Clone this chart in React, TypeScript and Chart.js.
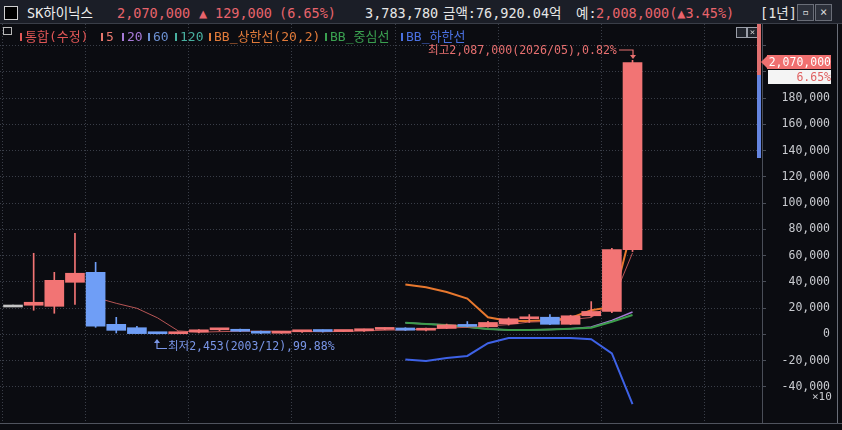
import React, { useEffect, useRef } from 'react';
import { Chart, registerables } from 'chart.js';

Chart.register(...registerables);

// 연봉 (수정주가) - 축 단위는 원/10 (축 아래 "×10")
const years = [
    1996, 1997, 1998, 1999, 2000, 2001, 2002, 2003, 2004, 2005, 2006,
    2007, 2008, 2009, 2010, 2011, 2012, 2013, 2014, 2015, 2016, 2017,
    2018, 2019, 2020, 2021, 2022, 2023, 2024, 2025, 2026,
];
const opens = [
    22300, 22100, 21300, 39600, 47200, 7600, 5000, 650, 420, 1700, 3400,
    3700, 2300, 800, 1900, 2400, 2100, 2700, 3700, 4800, 3100, 4500,
    7200, 5700, 8000, 11800, 13000, 7600, 14100, 17400, 64500,
];
const highs = [
    22300, 61700, 47200, 76900, 54800, 12900, 6000, 900, 1800, 3600, 4400,
    4000, 2500, 2200, 2900, 3300, 3000, 3900, 5000, 5000, 4700, 7800,
    9700, 9800, 12600, 15000, 15000, 14500, 24900, 65500, 208700,
];
const lows = [
    22300, 18300, 16000, 22800, 5300, 1000, 400, 245, 400, 1000, 2500,
    2000, 500, 700, 1500, 1700, 2000, 2200, 3400, 2900, 2600, 4300,
    5700, 5500, 7000, 9000, 7300, 7400, 13500, 16400, 63000,
];
const closes = [
    22300, 24400, 41100, 46500, 6100, 3000, 500, 420, 1700, 3400, 3700,
    2300, 800, 1900, 2400, 2100, 2700, 3700, 4800, 3100, 4500, 7200,
    6000, 9000, 11800, 13000, 7600, 14100, 17400, 64500, 207000,
];

// 이동평균 / 볼린저밴드
const ma5 = [
    null, null, null, null, 28000, 23600, 19800, 12500, 2600, 1600, 2000,
    2300, 2400, 2400, 2200, 1900, 2200, 2500, 3100, 3400, 3900, 4700,
    5300, 6300, 7400, 9300, 9800, 11200, 12800, 24000, 62000,
];
const bbStart = 19;
const ma20 = [8800, 7800, 7100, 5600, 4000, 3300, 3300, 3700, 4300, 5600, 10600, 17000];
const bbUpper = [38000, 35800, 32200, 27200, 13000, 10100, 10100, 10600, 12500, 18300, 20800, 83000];
const bbMid = [8800, 7800, 7100, 5600, 4000, 3300, 3300, 3700, 4300, 5000, 9600, 14700];
const bbLower = [-19300, -20300, -18000, -16500, -6800, -2900, -2900, -2900, -2900, -3800, -14500, -53300];

const yTicks = [-40000, -20000, 0, 20000, 40000, 60000, 80000, 100000, 120000, 140000, 160000, 180000, 200000, 220000];
const xGrid = [-0.5, 3.5, 8.5, 13.5, 18.5, 23.5, 28.5, 33.5];

const UP = '#f27474';
const DOWN = '#6f9ef6';
const FLAT = '#c4c4c4';

const candleColor = (i: number) =>
    closes[i] > opens[i] ? UP : closes[i] < opens[i] ? DOWN : FLAT;

const bbPoints = (arr: number[]) => arr.map((v, i) => ({ x: bbStart + i, y: v }));

const mono = "'DejaVu Sans Mono', 'Noto Sans CJK KR', monospace";

const App: React.FC = () => {
    const canvasRef = useRef<HTMLCanvasElement>(null);
    const chartRef = useRef<Chart | null>(null);

    useEffect(() => {
        const ctx = canvasRef.current?.getContext('2d');
        if (!ctx) return;

        if (chartRef.current) chartRef.current.destroy();

        chartRef.current = new Chart(ctx, {
            type: 'bar',
            data: {
                datasets: [
                    {
                        type: 'bar',
                        label: 'body',
                        data: years.map((_, i) => ({ x: i, y: [opens[i], closes[i]] })) as any,
                        backgroundColor: years.map((_, i) => candleColor(i)),
                        barThickness: 19,
                        minBarLength: 2,
                        grouped: false,
                        order: 0,
                    },
                    {
                        type: 'bar',
                        label: 'wick',
                        data: years.map((_, i) => ({ x: i, y: [lows[i], highs[i]] })) as any,
                        backgroundColor: years.map((_, i) => candleColor(i)),
                        barThickness: 1,
                        grouped: false,
                        order: 1,
                    },
                    {
                        type: 'line',
                        label: '5',
                        data: ma5.map((v, i) => ({ x: i, y: v })) as any,
                        borderColor: '#b85656',
                        borderWidth: 1,
                        pointRadius: 0,
                        order: 2,
                    },
                    {
                        type: 'line',
                        label: '20',
                        data: bbPoints(ma20) as any,
                        borderColor: '#a77ad8',
                        borderWidth: 1.5,
                        pointRadius: 0,
                        order: 4,
                    },
                    {
                        type: 'line',
                        label: 'BB_상한선',
                        data: bbPoints(bbUpper) as any,
                        borderColor: '#e8782e',
                        borderWidth: 2,
                        pointRadius: 0,
                        order: 3,
                    },
                    {
                        type: 'line',
                        label: 'BB_중심선',
                        data: bbPoints(bbMid) as any,
                        borderColor: '#3c9c4a',
                        borderWidth: 2,
                        pointRadius: 0,
                        order: 3,
                    },
                    {
                        type: 'line',
                        label: 'BB_하한선',
                        data: bbPoints(bbLower) as any,
                        borderColor: '#3e62e6',
                        borderWidth: 2,
                        pointRadius: 0,
                        order: 3,
                    },
                ],
            },
            options: {
                animation: false,
                responsive: true,
                maintainAspectRatio: false,
                layout: { padding: { left: 0, top: 0, right: 12, bottom: 7 } },
                plugins: {
                    legend: { display: false },
                    tooltip: { enabled: false },
                },
                scales: {
                    x: {
                        type: 'linear',
                        offset: false,
                        min: -0.63,
                        max: 36.27,
                        ticks: { display: false },
                        grid: { color: '#3a3e48', drawTicks: false, offset: false },
                        border: { display: false, dash: [1, 2] },
                        afterBuildTicks: (scale) => {
                            scale.ticks = xGrid.map((v) => ({ value: v }));
                        },
                        afterFit: (scale) => {
                            scale.height = 0;
                            scale.paddingLeft = 0;
                            scale.paddingRight = 0;
                        },
                    },
                    y: {
                        type: 'linear',
                        position: 'right',
                        min: -67600,
                        max: 236400,
                        grid: { color: '#3a3e48', tickLength: 4, tickColor: '#4a4e58' },
                        border: { display: true, color: '#4a4e58', dash: [1, 2] },
                        ticks: {
                            color: '#c9cbd0',
                            font: { family: mono, size: 11.5 },
                            crossAlign: 'far',
                            callback: (v) => (Number(v) > 180000 ? '' : Number(v).toLocaleString('en-US')),
                        },
                        afterBuildTicks: (scale) => {
                            scale.ticks = yTicks.map((v) => ({ value: v }));
                        },
                        afterFit: (scale) => {
                            scale.width = 68;
                            scale.paddingTop = 0;
                            scale.paddingBottom = 0;
                        },
                    },
                },
            },
        });

        return () => {
            if (chartRef.current) {
                chartRef.current.destroy();
                chartRef.current = null;
            }
        };
    }, []);

    const abs = (x: number, y: number, extra: React.CSSProperties = {}): React.CSSProperties => ({
        position: 'absolute',
        left: x,
        top: y,
        whiteSpace: 'nowrap',
        ...extra,
    });

    const red = '#e8646c';
    const white = '#e6e6e6';
    const legend = [
        { x: 20, text: '통합(수정)', color: '#e05656' },
        { x: 101, text: '5', color: '#e8786e' },
        { x: 122, text: '20', color: '#a77ad8' },
        { x: 148, text: '60', color: '#6b8fd0' },
        { x: 175, text: '120', color: '#48b0a0' },
        { x: 209, text: 'BB_상한선(20,2)', color: '#e07a3a' },
        { x: 325, text: 'BB_중심선', color: '#3aa050' },
        { x: 401, text: 'BB_하한선', color: '#4a70e0' },
    ];

    return (
        <div
            style={{
                position: 'fixed',
                left: 0,
                top: 0,
                width: 842,
                height: 430,
                background: '#0b0c11',
                overflow: 'hidden',
                fontFamily: mono,
            }}
        >
            {/* 종목 헤더 */}
            <div style={abs(0, 0, { width: 842, height: 24, background: '#1b1e27', borderBottom: '1px solid #3a3e48', boxSizing: 'border-box' })} />
            <div style={abs(4, 6, { width: 12, height: 12, background: '#000', border: '1px solid #d0d0d0' })} />
            <div style={{ ...abs(0, 5), fontSize: 13.5, lineHeight: '16px' }}>
                <span style={abs(27, 0, { color: '#f0f0f0' })}>SK하이닉스</span>
                <span style={abs(117, 0, { color: red })}>2,070,000</span>
                <span style={abs(199, 0, { color: red })}>▲</span>
                <span style={abs(215, 0, { color: red })}>129,000</span>
                <span style={abs(279, 0, { color: red })}>(6.65%)</span>
                <span style={abs(365, 0, { color: white })}>3,783,780</span>
                <span style={abs(443, 0, { color: white })}>금액:76,920.04억</span>
                <span style={abs(576, 0, { color: white })}>예:</span>
                <span style={abs(596, 0, { color: red })}>2,008,000(▲3.45%)</span>
                <span style={abs(760, 0, { color: white })}>[1년]</span>
            </div>
            <div style={abs(797, 4, { width: 15, height: 15, background: '#2c303a', border: '1px solid #6a6e78', color: '#ddd', fontSize: 11, textAlign: 'center', lineHeight: '15px' })}>▫</div>
            <div style={abs(815, 4, { width: 15, height: 15, background: '#2c303a', border: '1px solid #6a6e78', color: '#ddd', fontSize: 12, textAlign: 'center', lineHeight: '15px' })}>×</div>

            {/* 차트 */}
            <div style={abs(0, 24, { width: 842, height: 406 })}>
                <canvas ref={canvasRef} />
            </div>

            {/* 범례 */}
            <div style={abs(3, 27, { width: 7, height: 6, border: '1px solid #b8b8b8' })} />
            {legend.map((l) => (
                <React.Fragment key={l.text}>
                    <div style={abs(l.x, 33, { width: 2, height: 8, background: l.color })} />
                    <span style={abs(l.x + 5, 29, { color: l.color, fontSize: 13, lineHeight: '16px' })}>{l.text}</span>
                </React.Fragment>
            ))}
            <div style={abs(736, 27, { width: 9, height: 9, border: '1px solid #9a9ea8', background: '#20232b' })} />
            <div style={abs(747, 27, { width: 9, height: 9, border: '1px solid #9a9ea8', background: '#20232b', color: '#ccc', fontSize: 9, lineHeight: '9px', textAlign: 'center' })}>×</div>

            {/* 최고 / 최저 표시 */}
            <span style={abs(428, 42, { color: '#e87070', fontSize: 11.6, lineHeight: '16px' })}>최고2,087,000(2026/05),0.82%</span>
            <span style={abs(168, 338, { color: '#7a96e8', fontSize: 11.5, lineHeight: '16px' })}>최저2,453(2003/12),99.88%</span>
            <svg width={842} height={430} style={abs(0, 0, { pointerEvents: 'none' })}>
                <polyline points="619,50 633,50 633,55" fill="none" stroke="#e87070" strokeWidth={1.2} />
                <polygon points="630,55 636,55 633,59" fill="#e87070" />
                <polyline points="157,342 157,348.5 167,348.5" fill="none" stroke="#7a96e8" strokeWidth={1.2} />
                <polygon points="154,343 160,343 157,339" fill="#7a96e8" />
                {/* 현재가 태그 */}
                <polygon points="761,62 767,56 767,68" fill="#f07070" />
                <rect x={757} y={24} width={4} height={51} fill="#e07070" />
                <rect x={757} y={75} width={4} height={83} fill="#6585e0" />
                <line x1={837.5} y1={24} x2={837.5} y2={423} stroke="#6a6e78" />
                <line x1={0} y1={423.5} x2={842} y2={423.5} stroke="#50545e" />
            </svg>
            <div style={abs(767, 55, { width: 64, height: 14, background: '#f07070', color: '#fff', fontSize: 11.5, lineHeight: '14px', textAlign: 'right' })}>2,070,000</div>
            <div style={abs(768, 70, { width: 63, height: 14, background: '#f4f4f4', color: '#e06060', fontSize: 11.5, lineHeight: '14px', textAlign: 'right' })}>6.65%</div>
            <span style={abs(812, 391, { color: '#c9cbd0', fontSize: 11, lineHeight: '12px' })}>×10</span>
        </div>
    );
};

export default App;
